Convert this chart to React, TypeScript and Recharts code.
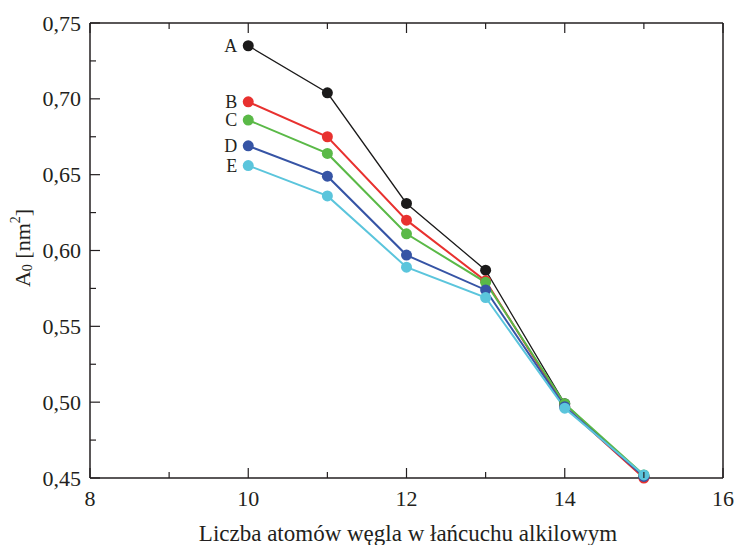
import { LineChart, Line, XAxis, YAxis } from "recharts";

const carbonNumbers = [10, 11, 12, 13, 14, 15];
const seriesA = [0.735, 0.704, 0.631, 0.587, 0.499, 0.451];
const seriesB = [0.698, 0.675, 0.62, 0.58, 0.497, 0.45];
const seriesC = [0.686, 0.664, 0.611, 0.579, 0.499, 0.452];
const seriesD = [0.669, 0.649, 0.597, 0.574, 0.497, 0.451];
const seriesE = [0.656, 0.636, 0.589, 0.569, 0.496, 0.452];

const seriesNames = ["A", "B", "C", "D", "E"];
const seriesColors = ["#1b1a1a", "#e8312f", "#5ab947", "#3654a5", "#5bc5dc"];
const allSeries = [seriesA, seriesB, seriesC, seriesD, seriesE];

const xTicks = [8, 9, 10, 11, 12, 13, 14, 15, 16];
const yTicks = [0.45, 0.475, 0.5, 0.525, 0.55, 0.575, 0.6, 0.625, 0.65, 0.675, 0.7, 0.725, 0.75];

const data = carbonNumbers.map((n, i) => {
  const row: Record<string, number> = { n };
  seriesNames.forEach((s, k) => (row[s] = allSeries[k][i]));
  return row;
});

const FONT = "'Liberation Serif', 'DejaVu Serif', serif";
const AXIS = "#231f20";

const isMajorY = (v: number) => Math.round(v * 1000) % 50 === 0;
const isMajorX = (v: number) => v % 2 === 0;

// tick marks point inwards, like the original
const LeftTick = ({ x, y, payload }: any) => {
  const major = isMajorY(payload.value);
  return (
    <g>
      <line x1={x} x2={x + (major ? 10 : 6)} y1={y} y2={y} stroke={AXIS} strokeWidth={1.2} />
      {major && (
        <text x={x - 9} y={y} textAnchor="end" dominantBaseline="central" fontSize={22} fill="#231f20" fontFamily={FONT}>
          {payload.value.toFixed(2).replace(".", ",")}
        </text>
      )}
    </g>
  );
};

const RightTick = ({ x, y, payload }: any) => {
  const major = isMajorY(payload.value);
  return <line x1={x} x2={x - (major ? 10 : 6)} y1={y} y2={y} stroke={AXIS} strokeWidth={1.2} />;
};

const BottomTick = ({ x, y, payload }: any) => {
  const major = isMajorX(payload.value);
  return (
    <g>
      <line x1={x} x2={x} y1={y} y2={y - (major ? 10 : 6)} stroke={AXIS} strokeWidth={1.2} />
      {major && (
        <text x={x} y={y + 20} textAnchor="middle" dominantBaseline="central" fontSize={22} fill="#231f20" fontFamily={FONT}>
          {payload.value}
        </text>
      )}
    </g>
  );
};

const TopTick = ({ x, y, payload }: any) => {
  const major = isMajorX(payload.value);
  return <line x1={x} x2={x} y1={y} y2={y + (major ? 10 : 6)} stroke={AXIS} strokeWidth={1.2} />;
};

const seriesLabel = (name: string) => (props: any) => {
  if (props.index !== 0) return null;
  return (
    <text x={props.x - 11} y={props.y} textAnchor="end" dominantBaseline="central" fontSize={18} fill="#231f20" fontFamily={FONT}>
      {name}
    </text>
  );
};

export default function App() {
  return (
    <div style={{ position: "absolute", left: 0, top: 0, width: 737, height: 545, background: "#fff" }}>
      <LineChart width={737} height={545} data={data} margin={{ top: 0, right: 0, bottom: 0, left: 0 }}>
        <XAxis
          dataKey="n"
          type="number"
          domain={[8, 16]}
          ticks={xTicks}
          interval={0}
          height={67}
          tickSize={0}
          tickMargin={0}
          tickLine={false}
          axisLine={{ stroke: AXIS, strokeWidth: 1.5 }}
          tick={<BottomTick />}
        />
        <XAxis
          xAxisId="top"
          orientation="top"
          dataKey="n"
          type="number"
          domain={[8, 16]}
          ticks={xTicks}
          interval={0}
          height={23}
          tickSize={0}
          tickMargin={0}
          tickLine={false}
          axisLine={{ stroke: AXIS, strokeWidth: 1.5 }}
          tick={<TopTick />}
        />
        <YAxis
          type="number"
          domain={[0.45, 0.75]}
          ticks={yTicks}
          interval={0}
          width={90}
          tickSize={0}
          tickMargin={0}
          tickLine={false}
          axisLine={{ stroke: AXIS, strokeWidth: 1.5 }}
          tick={<LeftTick />}
        />
        <YAxis
          yAxisId="right"
          orientation="right"
          type="number"
          domain={[0.45, 0.75]}
          ticks={yTicks}
          interval={0}
          width={14}
          tickSize={0}
          tickMargin={0}
          tickLine={false}
          axisLine={{ stroke: AXIS, strokeWidth: 1.5 }}
          tick={<RightTick />}
        />
        {seriesNames.map((s, k) => (
          <Line
            key={s}
            dataKey={s}
            stroke={seriesColors[k]}
            strokeWidth={k === 0 ? 1.3 : 2}
            dot={{ r: 5.5, fill: seriesColors[k], stroke: "none" }}
            activeDot={false}
            isAnimationActive={false}
            label={seriesLabel(s)}
          />
        ))}
        <text x={408} y={533} textAnchor="middle" dominantBaseline="central" fontSize={23} fill="#231f20" fontFamily={FONT}>
          Liczba atomów węgla w łańcuchu alkilowym
        </text>
        <text
          transform="translate(22,248) rotate(-90)"
          textAnchor="middle"
          dominantBaseline="central"
          fontSize={22}
          fill="#231f20"
          fontFamily={FONT}
        >
          A<tspan fontSize={14} dy={5}>0</tspan>
          <tspan dy={-5}> [nm</tspan>
          <tspan fontSize={14} dy={-7}>2</tspan>
          <tspan dy={7}>]</tspan>
        </text>
      </LineChart>
    </div>
  );
}
